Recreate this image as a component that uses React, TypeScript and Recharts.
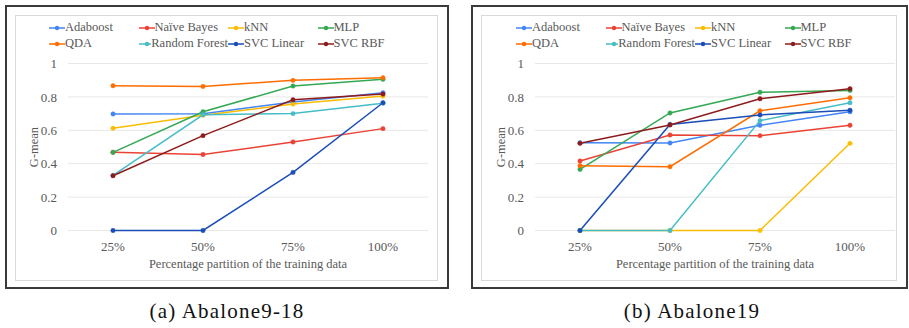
import React from 'react';
import { LineChart, Line, XAxis, YAxis, CartesianGrid, Legend } from 'recharts';

const categories = ['25%', '50%', '75%', '100%'];
const yTicks = [0, 0.2, 0.4, 0.6, 0.8, 1];
const seriesNames = ['Adaboost', 'Naïve Bayes', 'kNN', 'MLP', 'QDA', 'Random Forest', 'SVC Linear', 'SVC RBF'];
const seriesColors = ['#4285F4', '#EA4335', '#FBBC04', '#34A853', '#FF6D01', '#46BDC6', '#1A4DB8', '#8E1B1B'];

// Abalone9-18
const a_adaboost = [0.698, 0.699, 0.77, 0.825];
const a_naiveBayes = [0.468, 0.455, 0.53, 0.61];
const a_knn = [0.612, 0.69, 0.757, 0.805];
const a_mlp = [0.468, 0.711, 0.865, 0.905];
const a_qda = [0.867, 0.863, 0.899, 0.915];
const a_randomForest = [0.33, 0.693, 0.70, 0.762];
const a_svcLinear = [0, 0, 0.348, 0.765];
const a_svcRbf = [0.328, 0.568, 0.783, 0.817];

// Abalone19
const b_adaboost = [0.526, 0.524, 0.63, 0.711];
const b_naiveBayes = [0.416, 0.572, 0.568, 0.63];
const b_knn = [0, 0, 0, 0.522];
const b_mlp = [0.366, 0.704, 0.828, 0.839];
const b_qda = [0.388, 0.382, 0.717, 0.795];
const b_randomForest = [0, 0, 0.658, 0.765];
const b_svcLinear = [0, 0.635, 0.692, 0.72];
const b_svcRbf = [0.522, 0.632, 0.789, 0.849];

const seriesA = [a_adaboost, a_naiveBayes, a_knn, a_mlp, a_qda, a_randomForest, a_svcLinear, a_svcRbf];
const seriesB = [b_adaboost, b_naiveBayes, b_knn, b_mlp, b_qda, b_randomForest, b_svcLinear, b_svcRbf];

const buildRows = (series: number[][]) =>
  categories.map((c, i) => {
    const row: Record<string, any> = { cat: c };
    seriesNames.forEach((n, k) => (row[n] = series[k][i]));
    return row;
  });

const FONT = '"Liberation Serif", "Times New Roman", serif';
const TXT = '#595959';

const LegendContent = () => (
  <div style={{ display: 'grid', gridTemplateColumns: 'repeat(4, 89.5px)', rowGap: 3, fontFamily: FONT, fontSize: 12.5, color: TXT }}>
    {seriesNames.map((n, k) => (
      <div key={n} style={{ display: 'flex', alignItems: 'center', height: 13, whiteSpace: 'nowrap' }}>
        <svg width={16} height={8}>
          <line x1={0} y1={4} x2={16} y2={4} stroke={seriesColors[k]} strokeWidth={1.5} />
          <circle cx={8} cy={4} r={2.2} fill={seriesColors[k]} />
        </svg>
        <span>{n}</span>
      </div>
    ))}
  </div>
);

const Panel = ({ series, left, chartLeft, boxW, caption, capX }: any) => {
  const data = buildRows(series);
  return (
    <>
      <div style={{ position: 'absolute', left, top: 5, width: boxW, height: 284, border: '2px solid #3a3a3a', boxSizing: 'border-box', background: '#fff' }} />
      <div style={{ position: 'absolute', left: left + 10, top: 15, width: boxW - 21, height: 266, border: '1px solid #d9d9d9', boxSizing: 'border-box' }} />
      <div style={{ position: 'absolute', left: chartLeft, top: 0 }}>
        <LineChart width={454} height={290} data={data} margin={{ top: 63.5, right: 26, bottom: 29.5, left: 0 }}>
          <CartesianGrid vertical={false} stroke="#e8e8e8" strokeWidth={1} />
          <XAxis
            dataKey="cat"
            height={30}
            axisLine={false}
            tickLine={false}
            tickMargin={5}
            padding={{ left: 45, right: 45 }}
            tick={{ fontFamily: FONT, fontSize: 13, fill: TXT }}
            label={{ value: 'Percentage partition of the training data', position: 'bottom', offset: -1, style: { fontFamily: FONT, fontSize: 12.5, fill: TXT } }}
          />
          <YAxis
            width={68}
            domain={[0, 1]}
            ticks={yTicks}
            axisLine={false}
            tickLine={false}
            tickMargin={5}
            tickFormatter={(v: number) => String(v)}
            tick={{ fontFamily: FONT, fontSize: 13, fill: TXT }}
            label={{ value: 'G-mean', angle: -90, position: 'center', style: { fontFamily: FONT, fontSize: 12.5, fill: TXT } }}
          />
          <Legend
            layout="horizontal"
            verticalAlign="middle"
            align="center"
            wrapperStyle={{ top: 21, left: 49, width: 360 }}
            content={<LegendContent />}
          />
          {seriesNames.map((n, k) => (
            <Line
              key={n}
              type="linear"
              dataKey={n}
              name={n}
              stroke={seriesColors[k]}
              strokeWidth={1.5}
              dot={{ r: 2.2, fill: seriesColors[k], stroke: seriesColors[k], strokeWidth: 0.5 }}
              activeDot={false}
              isAnimationActive={false}
            />
          ))}
        </LineChart>
      </div>
      <div style={{ position: 'absolute', left: capX - 150, width: 300, top: 299, textAlign: 'center', fontFamily: FONT, fontSize: 21, letterSpacing: 1.2, color: '#111' }}>
        {caption}
      </div>
    </>
  );
};

export default function App() {
  return (
    <div style={{ position: 'absolute', left: 0, top: 0, width: 909, height: 328, background: '#fff', overflow: 'hidden' }}>
      <Panel series={seriesA} left={5} chartLeft={0} boxW={444} caption="(a) Abalone9-18" capX={227} />
      <Panel series={seriesB} left={471} chartLeft={467} boxW={437} caption="(b) Abalone19" capX={692} />
    </div>
  );
}
